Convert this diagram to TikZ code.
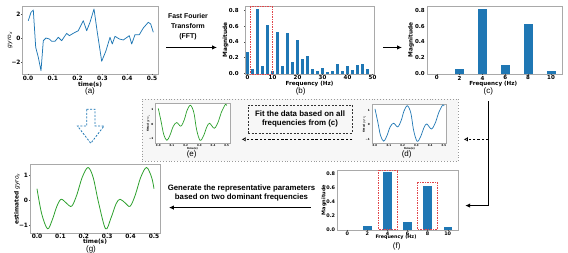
\documentclass[tikz,border=0pt]{standalone}
\usepackage{fontspec}
\setmainfont{Liberation Sans}
\newfontfamily\mplfont{DejaVu Sans}
\usetikzlibrary{arrows.meta,positioning,calc}
\definecolor{cbar}{HTML}{1F77B4}
\definecolor{cgreen}{HTML}{2CA02C}
\definecolor{cred}{HTML}{E0474C}
\definecolor{cframe}{HTML}{A9A9A9}
\definecolor{cpanel}{HTML}{F7F7F7}
\definecolor{cpaneld}{HTML}{9A9A9A}
\newcommand{\tkf}[1]{\mplfont\bfseries\fontsize{#1}{#1}\selectfont}
\newcommand{\gyro}{{\mdseries\itshape gyro\textsubscript{x}}}
% fitted signal, given in (time, value)
\newcommand{\fitcurve}[1]{\draw[#1, line width=0.7pt] plot[smooth, tension=0.55] coordinates {
  (0,1.1) (.02,.2) (.04,-.75) (.063,-1.15) (.085,-.8) (.11,-.15) (.135,.1) (.165,-.15)
  (.19,.3) (.21,.95) (.235,1.32) (.26,.8) (.28,-.4) (.305,-1.15) (.33,-.85) (.355,-.2)
  (.375,.05) (.41,-.3) (.44,.2) (.46,.8) (.49,1.37) (.5,1.3)};}

\begin{document}
\begin{tikzpicture}[x=1pt, y=-1pt,
  frame/.style={draw=cframe, line width=0.9pt, inner sep=0pt, anchor=north west},
  tk/.style={font=\tkf{#1}, inner sep=0pt},
  tk/.default=5.9,
  subcap/.style={font=\fontsize{8}{8}\selectfont, inner sep=0pt},
  note/.style={font=\bfseries\fontsize{#1}{9.8}\selectfont, align=center, inner sep=0pt},
  arr/.style={-{Latex[length=5pt,width=4.5pt]}, line width=1pt},
  darr/.style={-{Latex[open,length=4pt,width=4.5pt]}, dash pattern=on 2.5pt off 1.8pt, line width=0.7pt},
  hl/.style={draw=cred, dash pattern=on 1.5pt off 1pt, line width=0.6pt},
  sig/.style={line width=0.75pt, line join=round},
  tkm/.style={black!70, line width=0.4pt},
]
\useasboundingbox (0,0) rectangle (568,253);

% ------------------------------------------------------------ (a) raw signal
\node[frame, minimum width=136.3pt, minimum height=68pt] (pa) at (22,6) {};
\foreach \v/\y in {2/14, 0/38, −2/62} {
  \node[tk, anchor=east] at (20.8,\y) {\v};
  \draw[tkm] (22,\y) -- ++(-1.2,0);
}
\foreach \t/\x in {0.0/28, 0.1/52.8, 0.2/77.6, 0.3/102.4, 0.4/127.2, 0.5/152} {
  \node[tk] at (\x,78.3) {\t};
  \draw[tkm] (\x,74) -- ++(0,1.2);
}
\node[tk, rotate=90] at (10,40) {\gyro};
\node[tk] at (90,84.3) {time(s)};
\node[subcap] (capa) at (90,91.5) {(a)};
\draw[cbar, sig] (28.3,20.7) -- (31,12.3) -- (33.3,10) -- (35.7,47.3) -- (38.3,57.3) -- (41,70.7)
  -- (43.3,40.7) -- (46,38) -- (49.3,39) -- (51.7,41.3) -- (55,41.3) -- (58.3,37.3) -- (61.7,40.7)
  -- (66.7,33.3) -- (69.3,35.7) -- (73.3,33.3) -- (78.3,30.7) -- (83.3,20.7) -- (86.7,30.7)
  -- (90,22.3) -- (94,9) -- (97.3,32.3) -- (101.7,61.3) -- (106,50.7) -- (110,37.3) -- (112.3,44)
  -- (115,36.3) -- (119.3,39) -- (123.3,40) -- (129.3,35.7) -- (131.7,44) -- (135,34.7)
  -- (139.3,34.7) -- (143.3,28) -- (148.3,22.3) -- (150.7,24) -- (153.3,32.3);

% FFT
\node[note=6.9] (fft) at (188,26.5) {Fast Fourier\\Transform\\(FFT)};

% ------------------------------------------------------------ (b) full spectrum
\node[frame, minimum width=129pt, minimum height=68pt] (pb) at (245,6) {};
\foreach \h [count=\i from 0] in {51.7,69,9,65.7,24.7,70.7,32.3,65.7,33.3,62.3,39.7,59,55.7,
    69,71.3,68.3,71.7,71.3,64,71.3,66.3,70,65,64,69.3}
  \fill[cbar] ({247.5+5*\i-1.15},74) rectangle ({247.5+5*\i+1.15},\h);
\foreach \v/\y in {0.0/73.5, 0.2/57.7, 0.4/42, 0.6/26.2, 0.8/10.4} {
  \node[tk=5.5, anchor=east] at (238.8,\y) {\v};
  \draw[tkm] (245,\y) -- ++(-1.2,0);
}
\foreach \f in {0,10,...,50} {
  \node[tk=5.5] at ({247.5+2.5*\f},78) {\f};
  \draw[tkm] ({247.5+2.5*\f},74) -- ++(0,1.2);
}
\node[tk=5.8, rotate=90] at (225.5,40) {Magnitude};
\node[tk=5.6] at (309.5,83.8) {Frequency (Hz)};
\node[subcap] (capb) at (300.7,91.2) {(b)};
\draw[hl] (250,6.5) rectangle (272.7,74.5);

\draw[arr] ([xshift=7pt,yshift=-7pt]pa.east) -- ([xshift=-28pt,yshift=-7pt]pb.west);

% ------------------------------------------------------------ (c) 0--10 Hz
\node[frame, minimum width=135pt, minimum height=68pt] (pc) at (426.7,6) {};
\foreach \f/\h in {2/69, 4/9.3, 6/65.3, 8/24, 10/71}
  \fill[cbar] ({436.7+11.43*\f-4.5},74) rectangle ({436.7+11.43*\f+4.5},\h);
\foreach \v/\y in {0.0/74, 0.2/58, 0.4/42, 0.6/26.1, 0.8/10.3} {
  \node[tk=5.5, anchor=east] at (425,\y) {\v};
}
\foreach \f in {0,2,...,10} {
  \node[tk=5.5] at ({436.7+11.43*\f},78) {\f};
  \draw[tkm] ({436.7+11.43*\f},74) -- ++(0,1.2);
}
\node[tk=5.8, rotate=90] at (411,40) {Magnitude};
\node[tk=5.6] at (493.3,83.8) {Frequency (Hz)};
\node[subcap] (capc) at (488.3,91.5) {(c)};

\draw[arr] ([xshift=8.5pt,yshift=-7pt]pb.east) -- ([xshift=-24.7pt,yshift=-7pt]pc.west);

% ------------------------------------------------------------ fitting panel
\node[frame, draw=cpaneld, fill=cpanel, dotted, line width=0.8pt,
      minimum width=316pt, minimum height=62pt] (fitbox) at (142,99) {};
\node[note=7.9, draw=black!80, dash pattern=on 2pt off 1.5pt, line width=0.6pt,
      minimum width=104pt, minimum height=28pt] (fittxt) at (300,119)
  {Fit the data based on all\\frequencies from (c)};
\coordinate (lo) at ([yshift=-6pt]fittxt.south);

% (d) fitted, blue
\node[frame, fill=white, line width=0.6pt, minimum width=74.3pt, minimum height=39.6pt] (pd) at (371.7,103.7) {};
\foreach \v/\y in {1/110.3, 0/124.7, −1/139}
  \node[tk=2.8, anchor=east] at (370,\y) {\v};
\foreach \t [count=\i from 0] in {0.0,0.1,0.2,0.3,0.4,0.5}
  \node[tk=2.6] at ({375+13.8*\i},145.6) {\t};
\node[tk=2.6, rotate=90] at (364.5,124) {fitted \gyro};
\node[tk=2.6] at (409.5,148.5) {time(s)};
\node[subcap] (capd) at (406.7,154.9) {(d)};
\begin{scope}[shift={(375,124.7)}, xscale=138, yscale=-14.35]
  \fitcurve{cbar}
\end{scope}

% (e) fitted, green
\node[frame, fill=white, line width=0.6pt, minimum width=75pt, minimum height=40pt] (pe) at (155,103.3) {};
\foreach \v/\y in {1/109.8, 0/124, −1/138.2}
  \node[tk=2.8, anchor=east] at (153.5,\y) {\v};
\foreach \t [count=\i from 0] in {0.0,0.1,0.2,0.3,0.4,0.5}
  \node[tk=2.6] at ({158.3+13.68*\i},145.3) {\t};
\node[tk=2.6, rotate=90] at (148.3,123.5) {fitted \gyro};
\node[tk=2.6] at (192.5,148.2) {time(s)};
\node[subcap] (cape) at (191.7,154.7) {(e)};
\begin{scope}[shift={(158.3,124)}, xscale=136.8, yscale=-14.2]
  \fitcurve{cgreen}
\end{scope}

\draw[darr] (capc |- lo) -- ($(fitbox.east |- lo)+(5,0)$);
\draw[darr] (fittxt.east |- lo) -- ($(fittxt.west |- lo)+(-6,0)$);

% ------------------------------------------------------------ (f) dominant frequencies
\node[frame, minimum width=121.6pt, minimum height=59.7pt] (pf) at (336.7,170.3) {};
\foreach \f/\h in {2/225.7, 4/172.3, 6/222.3, 8/185.7, 10/227}
  \fill[cbar] ({347.3+10.04*\f-4.2},230) rectangle ({347.3+10.04*\f+4.2},\h);
\foreach \v/\y in {0.0/230, 0.2/215.8, 0.4/201.6, 0.6/187.5, 0.8/173.3}
  \node[tk=4.9, anchor=east] at (335.3,\y) {\v};
\foreach \f in {0,2,...,10} {
  \node[tk=4.9] at ({347.3+10.04*\f},233.5) {\f};
  \draw[tkm] ({347.3+10.04*\f},230) -- ++(0,1.2);
}
\node[tk=5, rotate=90] at (324,200) {Magnitude};
\node[tk=4.8] at (396,237.5) {Frequency (Hz)};
\node[subcap] (capf) at (396.7,246.2) {(f)};
\draw[hl] (378.3,170) rectangle (397.7,229.3);
\draw[hl] (417.3,182.3) rectangle (437.3,229.3);

\draw[arr] ([yshift=-6pt]capc.south) |- ([xshift=6pt,yshift=-5pt]pf.east);

% ------------------------------------------------------------ (g) estimate
\node[frame, minimum width=130pt, minimum height=68.4pt] (pg) at (30,164.3) {};
\foreach \v/\y in {1/175, 0/200, −1/225} {
  \node[tk, anchor=east] at (28.3,\y) {\v};
  \draw[tkm] (30,\y) -- ++(-1.2,0);
}
\foreach \t [count=\i from 0] in {0.0,0.1,0.2,0.3,0.4,0.5} {
  \node[tk] at ({37+23.4*\i},236.3) {\t};
  \draw[tkm] ({37+23.4*\i},232.7) -- ++(0,1.2);
}
\node[tk, rotate=90] at (17,199) {estimated \gyro};
\node[tk] at (95,241.8) {time(s)};
\node[subcap] (capg) at (91,249.2) {(g)};
\begin{scope}[shift={(37,200)}, xscale=234, yscale=-25]
  \draw[cgreen, line width=0.8pt] plot[smooth, tension=0.55] coordinates {
    (0,.45) (.02,-.55) (.045,-1.15) (.065,-.8) (.085,-.25) (.103,.03) (.125,-.12) (.148,-.25)
    (.17,.2) (.193,.9) (.218,1.3) (.24,.9) (.263,-.1) (.293,-1.15) (.315,-.75) (.338,-.15)
    (.355,.03) (.377,-.12) (.398,-.25) (.42,.2) (.443,.9) (.468,1.3) (.49,.9) (.5,.45)};
\end{scope}

\node[note=7.8] (gentxt) at (241.5,193) {Generate the representative parameters\\based on two dominant frequencies};
\coordinate (gs) at ([xshift=-26pt,yshift=-7pt]pf.west);
\draw[arr] (gs) -- ($(pg.east |- gs)+(8,0)$);

% from (a) to (g)
\draw[cbar, line width=0.8pt, dash pattern=on 2pt off 1.5pt] (86.7,109.3) -- (95,109.3) -- (95,126)
  -- (104,126) -- (90.8,143.3) -- (77.5,126) -- (86.7,126) -- cycle;

\end{tikzpicture}
\end{document}
